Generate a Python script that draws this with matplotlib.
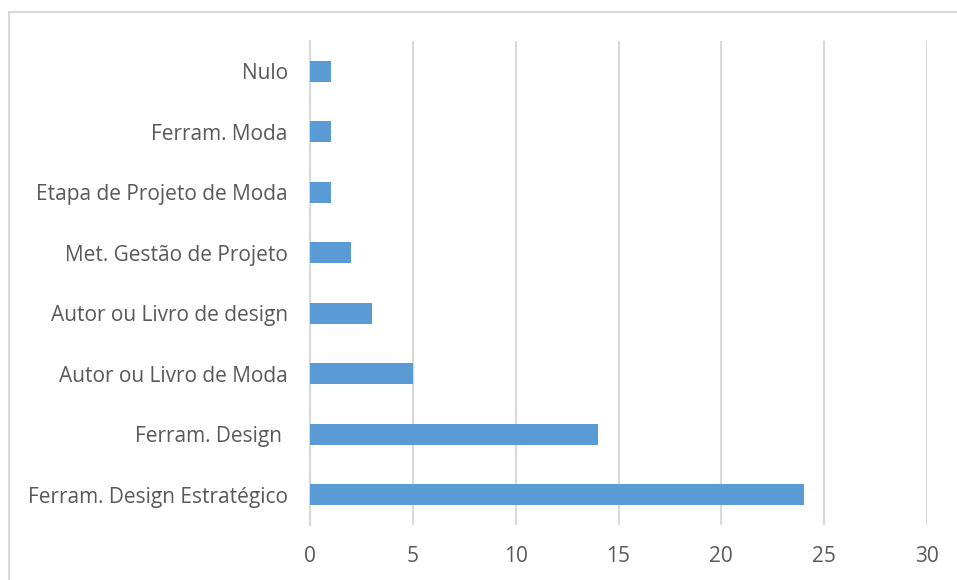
import matplotlib.pyplot as plt
from matplotlib.patches import Rectangle

categories = ["Ferram. Design Estratégico", "Ferram. Design ", "Autor ou Livro de Moda",
              "Autor ou Livro de design", "Met. Gestão de Projeto", "Etapa de Projeto de Moda",
              "Ferram. Moda", "Nulo"]
values = [24, 14, 5, 3, 2, 1, 1, 1]
xticks = [0, 5, 10, 15, 20, 25, 30]

plt.rcParams['font.family'] = ['Open Sans', 'DejaVu Sans']
text_color = '#595959'
grid_color = '#D9D9D9'

fig = plt.figure(figsize=(9.57, 5.80), dpi=100)
ax = fig.add_axes([310 / 957, 1 - 525 / 580, 617 / 957, 484 / 580])

ax.barh(range(len(categories)), values, height=0.35, color='#5B9BD5', zorder=3)

ax.set_xlim(0, 30)
ax.set_ylim(-0.5, len(categories) - 0.5)
ax.set_xticks(xticks)
ax.set_yticks(range(len(categories)))
ax.set_yticklabels(categories)
ax.tick_params(axis='both', length=0, labelsize=15, colors=text_color)
ax.tick_params(axis='y', pad=16)
ax.tick_params(axis='x', pad=15)
ax.grid(axis='x', color=grid_color, linewidth=1.5, zorder=0)
for s in ['top', 'right', 'bottom']:
    ax.spines[s].set_visible(False)
ax.spines['left'].set_color(grid_color)
ax.spines['left'].set_linewidth(1.5)

# outer chart border
fig.patches.append(Rectangle((9 / 957, -0.1), 1.1, 1 - 12 / 580 + 0.1, transform=fig.transFigure,
                             fill=False, edgecolor=grid_color, linewidth=1.5))

fig.savefig('out.png', dpi=100)
